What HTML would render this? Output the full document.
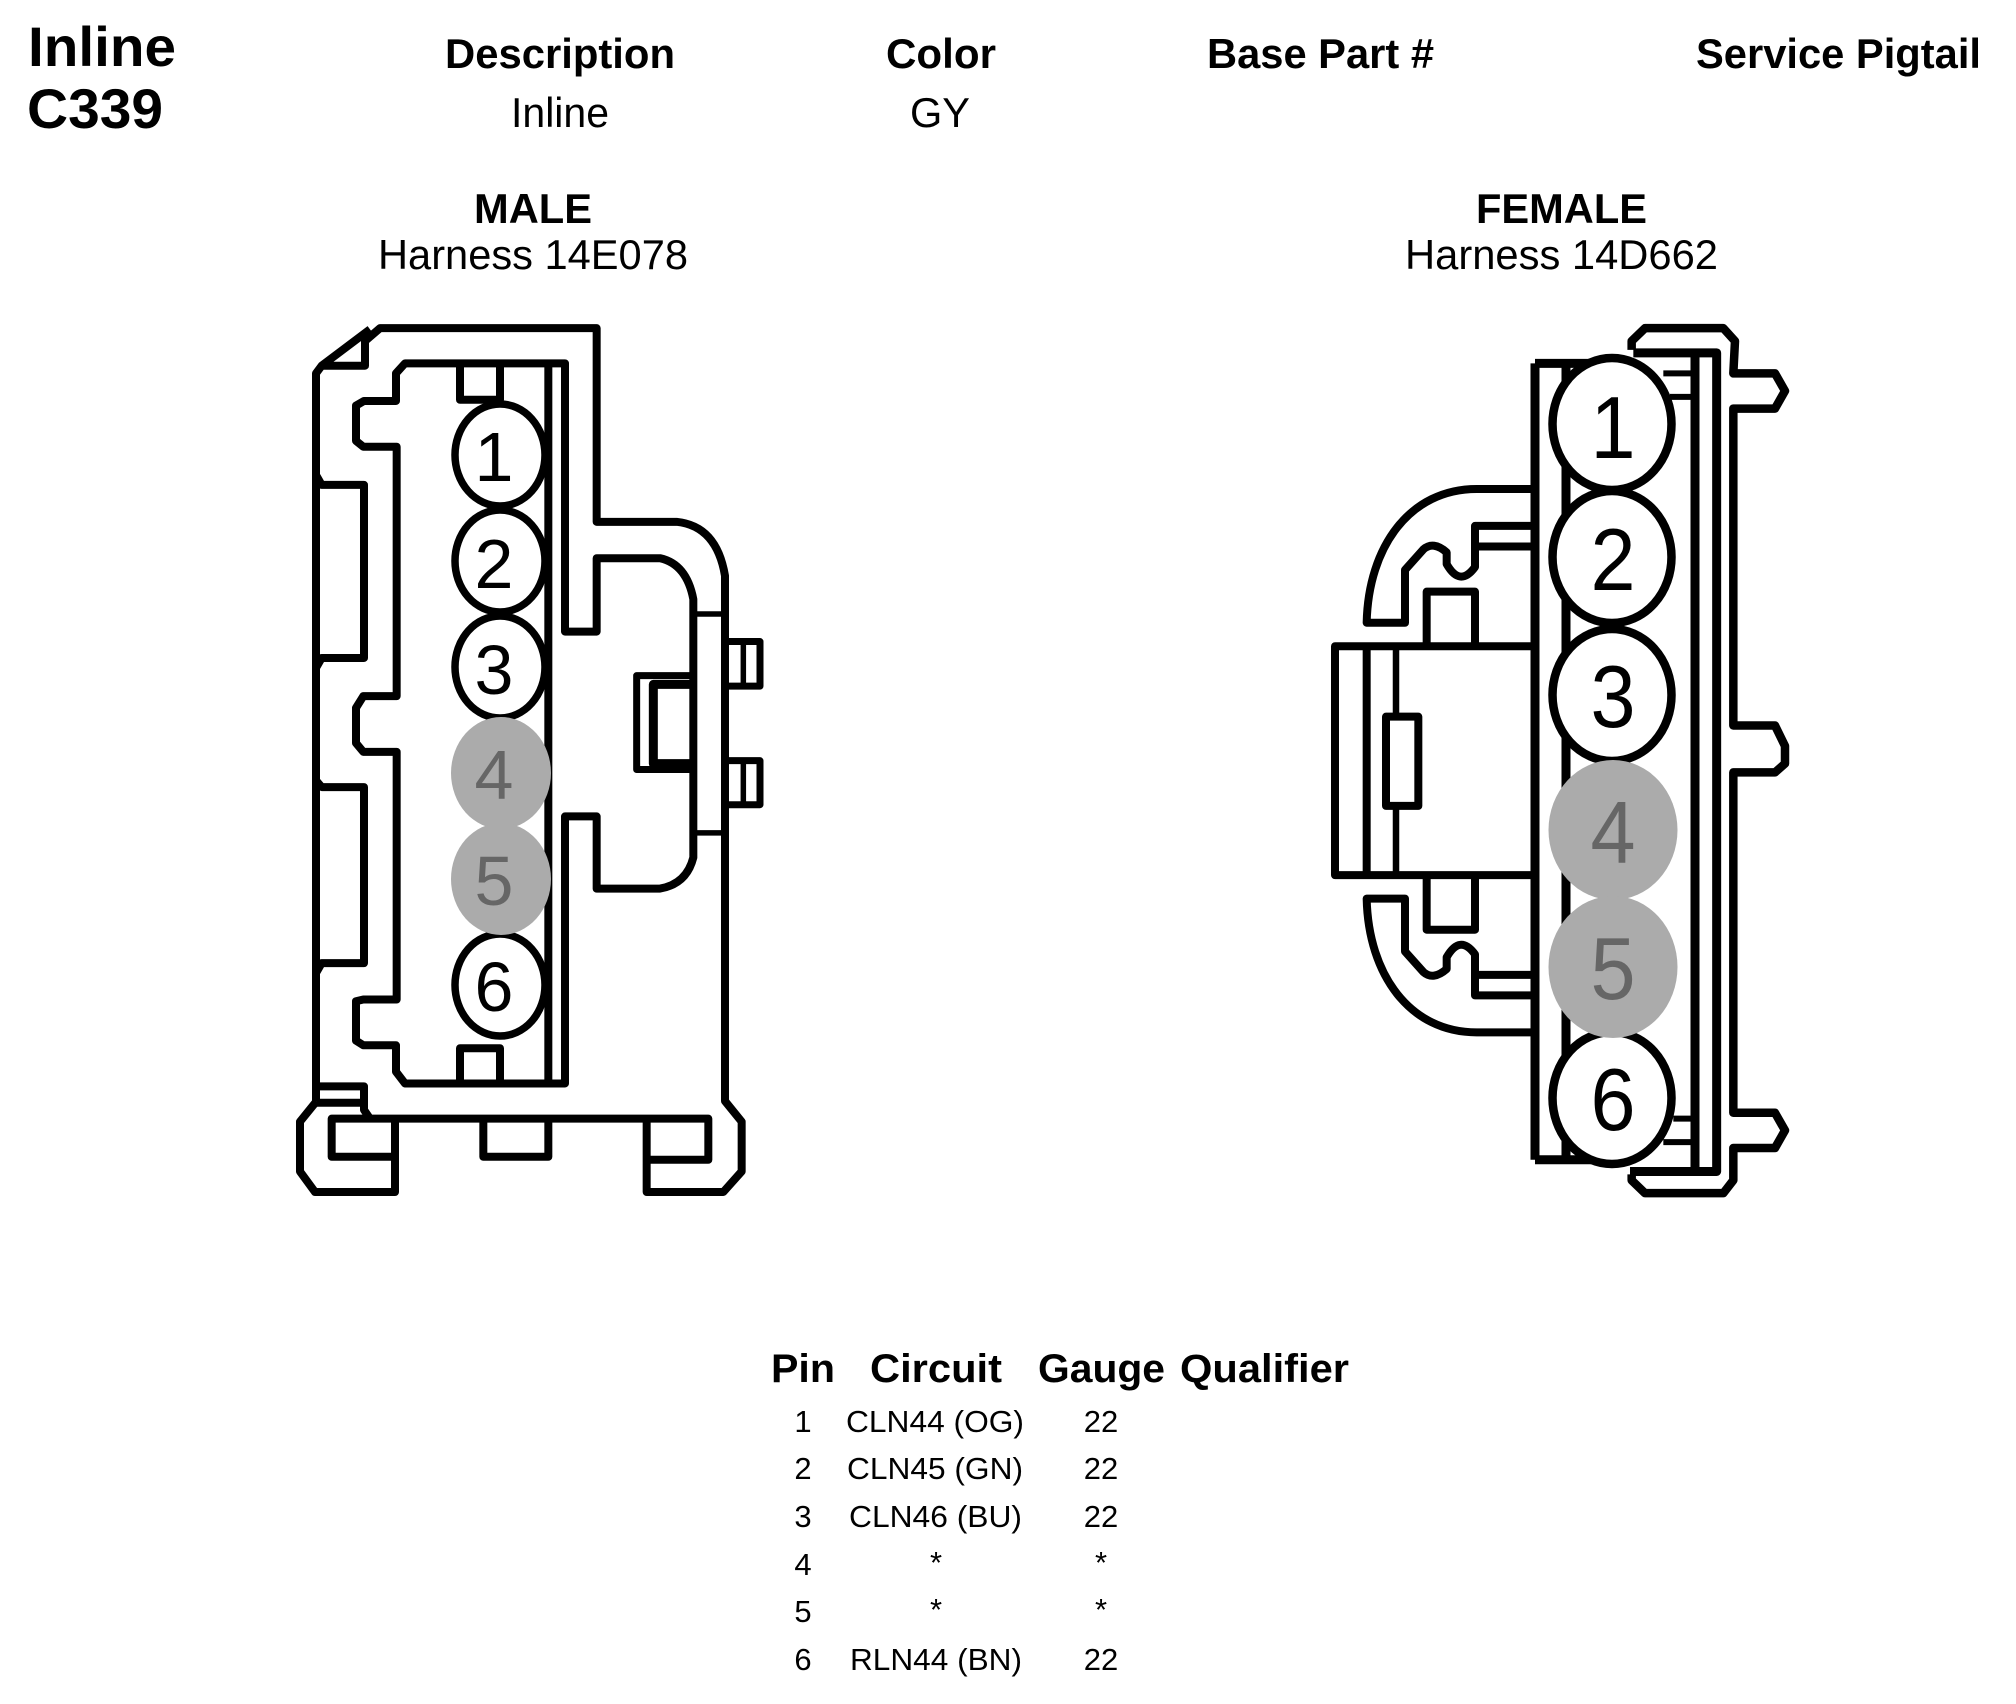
<!DOCTYPE html>
<html><head><meta charset="utf-8"><style>
html,body{margin:0;padding:0;background:#fff}
svg{display:block}
text{font-family:"Liberation Sans",sans-serif;fill:#000}
.b{font-weight:bold}
.l path{fill:none;stroke:#000;vector-effect:non-scaling-stroke;stroke-linejoin:round}
.t text{font-size:31px}
.c{fill:#fff;stroke:#000}
.g{fill:#ababab;stroke:none}
</style></head><body>
<svg width="2016" height="1704" viewBox="0 0 2016 1704" xmlns="http://www.w3.org/2000/svg">
<rect width="2016" height="1704" fill="#fff"/>
<text class="b" x="28" y="66" font-size="56" textLength="148" lengthAdjust="spacingAndGlyphs">Inline</text>
<text class="b" x="27" y="128" font-size="56" textLength="136" lengthAdjust="spacingAndGlyphs">C339</text>
<g font-size="42">
<text class="b" x="445" y="68" textLength="230" lengthAdjust="spacingAndGlyphs">Description</text>
<text class="b" x="886" y="68" textLength="110" lengthAdjust="spacingAndGlyphs">Color</text>
<text class="b" x="1207" y="68" textLength="227" lengthAdjust="spacingAndGlyphs">Base Part #</text>
<text class="b" x="1696" y="68" textLength="285" lengthAdjust="spacingAndGlyphs">Service Pigtail</text>
<text x="511" y="127" textLength="98" lengthAdjust="spacingAndGlyphs">Inline</text>
<text x="910" y="127" textLength="60" lengthAdjust="spacingAndGlyphs">GY</text>
<text class="b" x="474" y="223" textLength="118" lengthAdjust="spacingAndGlyphs">MALE</text>
<text class="b" x="1476" y="223" textLength="171" lengthAdjust="spacingAndGlyphs">FEMALE</text>
<text x="378" y="269" textLength="310" lengthAdjust="spacingAndGlyphs">Harness 14E078</text>
<text x="1405" y="269" textLength="313" lengthAdjust="spacingAndGlyphs">Harness 14D662</text>
</g>

<!-- male connector -->
<g class="l" transform="translate(270,300) scale(.33333,.58685)">
<path stroke-width="8" d="M138,1365 L138,125 L155,112 L300,50 M155,112 L285,112 L285,70 L330,48 L980,48 L980,378 L1220,378 Q1340,385 1365,470 L1365,1365 L1415,1400 L1415,1485 L1360,1520 L1130,1520 L1130,1395 M1130,1465 L1315,1465 L1315,1395 L185,1395 L185,1460 L375,1460 M300,1395 L282,1380 L282,1340 L150,1340 M140,1368 L280,1368"/>
<path stroke-width="8" d="M375,1395 L375,1520 L135,1520 L90,1485 L90,1400 L140,1365 M640,1395 L640,1460 L835,1460 L835,1395"/>
<path stroke-width="8" d="M140,300 L155,315 L282,315 L282,610 L155,610 L140,625 M140,820 L155,830 L282,830 L282,1130 L155,1130 L140,1145"/>
<path stroke-width="8" d="M282,172 L378,172 L378,125 L405,108 L885,108 L885,565 L980,565 L980,440 L1170,440 Q1250,450 1270,510 L1270,950 Q1250,995 1170,1003 L980,1003 L980,880 L885,880 L885,1335 L405,1335 L378,1315 L378,1270 L280,1270 L258,1262 L258,1195 L280,1192 L380,1192 L380,770 L280,770 L258,755 L258,695 L280,675 L380,675 L380,250 L280,250 L258,240 L258,180 Z"/>
<path stroke-width="8" d="M835,108 L835,1335 M570,108 L570,170 L690,170 L690,108 M570,1335 L570,1275 L690,1275 L690,1335"/>
<path stroke-width="5.5" d="M1270,535 L1365,535 M1270,908 L1365,908 M1420,582 L1420,658 M1420,785 L1420,860"/>
<path stroke-width="7" d="M1270,640 L1100,640 L1100,800 L1270,800 M1375,582 L1470,582 L1470,658 L1375,658 M1375,785 L1470,785 L1470,860 L1375,860"/>
<path stroke-width="9" d="M1260,655 L1150,655 L1150,790 L1260,790"/>
</g>
<g stroke-width="7.5">
<ellipse class="c" cx="500" cy="455" rx="45" ry="51"/>
<ellipse class="c" cx="500" cy="561" rx="45" ry="51"/>
<ellipse class="c" cx="500" cy="667" rx="45" ry="51"/>
<ellipse class="c" cx="500" cy="985" rx="45" ry="51"/>
<ellipse class="g" cx="501" cy="773" rx="50" ry="56"/>
<ellipse class="g" cx="501" cy="879" rx="50" ry="56"/>
</g>
<g font-size="70" text-anchor="middle">
<text transform="translate(494,481)">1</text>
<text transform="translate(494,588)">2</text>
<text transform="translate(494,694)">3</text>
<text transform="translate(494,799)" style="fill:#666">4</text>
<text transform="translate(494,905)" style="fill:#666">5</text>
<text transform="translate(494,1011)">6</text>
</g>

<!-- female connector -->
<g class="l" transform="translate(1310,300) scale(.33333,.58685)">
<path stroke-width="9" d="M675,108 L675,1465 M675,108 L860,108 M675,1465 L860,1465 M970,90 L1220,90 L1220,1485 L960,1485 M1155,90 L1155,1485"/>
<path stroke-width="9" d="M768,108 L768,1465"/>
<path stroke-width="8.5" d="M965,85 L965,70 L1005,48 L1240,48 L1275,70 L1270,125 L1395,125 L1425,155 L1395,185 L1270,185 L1270,725 L1395,725 L1425,760 L1425,790 L1395,805 L1270,805 L1270,1385 L1395,1385 L1425,1415 L1395,1445 L1270,1445 L1270,1500 L1240,1522 L1005,1522 L965,1500 L965,1490"/>
<path stroke-width="6" d="M1060,125 L1155,125 M1080,165 L1155,165 M1090,1395 L1155,1395 M1060,1435 L1155,1435"/>
<path stroke-width="8" d="M665,322 L500,322 C300,322 175,420 170,550 L285,550 L285,460 L340,425 Q370,410 410,430 L410,450 Q450,490 495,455 L495,385 L665,385 M500,420 L665,420 M350,590 L350,497 L495,497 L495,590"/>
<path stroke-width="8" d="M665,1248 L500,1248 C300,1248 175,1150 170,1020 L285,1020 L285,1110 L340,1145 Q370,1160 410,1140 L410,1120 Q450,1080 495,1115 L495,1185 L665,1185 M500,1150 L665,1150 M350,980 L350,1073 L495,1073 L495,980"/>
<path stroke-width="8" d="M670,590 L75,590 L75,980 L670,980 M170,590 L170,980"/>
<path stroke-width="6.5" d="M258,590 L258,710 M258,862 L258,980"/>
<path stroke-width="8" d="M228,710 L325,710 L325,862 L228,862 Z"/>
</g>
<g stroke-width="8.5">
<ellipse class="c" cx="1612" cy="424" rx="59.5" ry="66"/>
<ellipse class="c" cx="1612" cy="557" rx="59.5" ry="66"/>
<ellipse class="c" cx="1612" cy="695" rx="59.5" ry="66"/>
<ellipse class="c" cx="1612" cy="1098" rx="59.5" ry="66"/>
<ellipse class="g" cx="1613" cy="830" rx="64.5" ry="70"/>
<ellipse class="g" cx="1613" cy="967" rx="64.5" ry="71"/>
</g>
<g font-size="88" text-anchor="middle">
<text transform="translate(1613,458) scale(.92,1)">1</text>
<text transform="translate(1613,590) scale(.92,1)">2</text>
<text transform="translate(1613,727) scale(.92,1)">3</text>
<text transform="translate(1613,863) scale(.92,1)" style="fill:#666">4</text>
<text transform="translate(1613,999) scale(.92,1)" style="fill:#666">5</text>
<text transform="translate(1613,1130) scale(.92,1)">6</text>
</g>

<!-- table -->
<g font-size="40" class="b">
<text x="771" y="1382" textLength="64" lengthAdjust="spacingAndGlyphs">Pin</text>
<text x="870" y="1382" textLength="132" lengthAdjust="spacingAndGlyphs">Circuit</text>
<text x="1038" y="1382" textLength="127" lengthAdjust="spacingAndGlyphs">Gauge</text>
<text x="1180" y="1382" textLength="169" lengthAdjust="spacingAndGlyphs">Qualifier</text>
</g>
<g class="t">
<g text-anchor="middle">
<text x="803" y="1432">1</text><text x="803" y="1479">2</text><text x="803" y="1527">3</text>
<text x="803" y="1575">4</text><text x="803" y="1622">5</text><text x="803" y="1670">6</text>
<text x="1101" y="1432">22</text><text x="1101" y="1479">22</text><text x="1101" y="1527">22</text>
<text x="1101" y="1573">*</text><text x="1101" y="1620">*</text><text x="1101" y="1670">22</text>
<text x="936" y="1573">*</text><text x="936" y="1620">*</text>
</g>
<text x="846" y="1432" textLength="178" lengthAdjust="spacingAndGlyphs">CLN44 (OG)</text>
<text x="847" y="1479" textLength="176" lengthAdjust="spacingAndGlyphs">CLN45 (GN)</text>
<text x="849" y="1527" textLength="173" lengthAdjust="spacingAndGlyphs">CLN46 (BU)</text>
<text x="850" y="1670" textLength="172" lengthAdjust="spacingAndGlyphs">RLN44 (BN)</text>
</g>
</svg>
</body></html>
